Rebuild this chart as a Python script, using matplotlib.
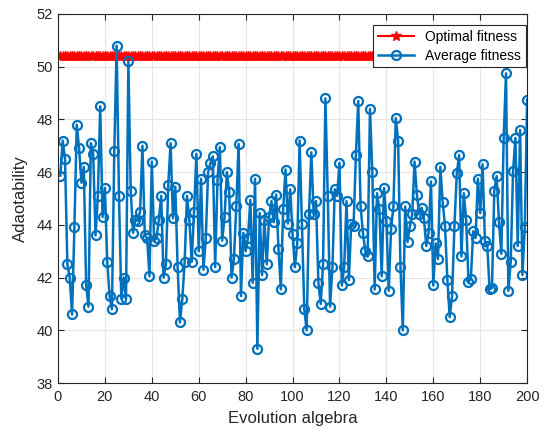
import numpy as np
import matplotlib
matplotlib.use("Agg")
import matplotlib.pyplot as plt

plt.rcParams['font.family'] = ['Liberation Sans', 'DejaVu Sans']

# generation index
gen = np.arange(1, 201)

# average fitness per generation
avg_fitness = [
    45.87, 47.2, 46.5, 42.5, 42.0, 40.6, 43.9, 47.8, 46.9, 45.6,
    46.2, 41.7, 40.9, 47.1, 46.7, 43.6, 45.1, 48.5, 44.3, 45.4,
    42.6, 41.3, 40.8, 46.8, 50.8, 45.1, 41.2, 42.0, 41.2, 50.2,
    45.3, 43.7, 44.2, 44.15, 44.5, 47.0, 43.6, 43.5, 42.05, 46.4,
    43.4, 43.5, 44.2, 45.1, 42.0, 42.5, 45.5, 47.1, 44.25, 45.45,
    42.4, 40.3, 41.2, 42.6, 45.1, 44.2, 42.6, 44.5, 46.7, 43.0,
    45.75, 42.3, 43.5, 46.0, 46.35, 46.6, 42.4, 45.7, 46.95, 43.4,
    44.3, 46.0, 45.25, 42.0, 42.7, 44.7, 47.07, 41.3, 43.7, 43.0,
    43.5, 44.95, 41.8, 45.75, 39.3, 44.45, 42.1, 44.2, 42.5, 44.3,
    44.9, 44.1, 45.15, 43.1, 41.55, 44.6, 46.1, 44.05, 45.35, 43.65,
    42.4, 43.3, 47.2, 44.05, 40.8, 40.0, 44.4, 46.75, 44.4, 44.9,
    41.8, 41.0, 42.5, 48.8, 45.1, 40.9, 42.4, 45.35, 45.1, 46.35,
    41.7, 42.4, 44.9, 41.9, 44.05, 43.95, 46.65, 48.7, 44.7, 43.7,
    43.0, 42.8, 48.4, 46.0, 41.55, 45.2, 44.6, 42.05, 45.4, 44.15,
    41.5, 43.85, 44.7, 48.05, 47.2, 42.4, 40.0, 44.7, 43.35, 43.95,
    44.4, 46.4, 45.15, 44.4, 44.65, 44.25, 43.2, 43.7, 45.65, 41.7,
    43.3, 42.7, 46.2, 44.85, 43.95, 41.9, 40.5, 41.3, 43.95, 45.95,
    46.65, 42.8, 45.2, 44.2, 41.85, 41.95, 43.75, 43.5, 45.75, 44.45,
    46.3, 43.4, 43.2, 41.55, 41.6, 45.3, 45.85, 44.1, 42.9, 47.3,
    49.75, 41.5, 42.6, 46.05, 47.3, 43.2, 47.6, 42.1, 43.9, 48.75,
]

# optimal fitness stays flat
optimal_fitness = [50.4] * 200

fig = plt.figure(figsize=(5.44, 4.32), dpi=100)
ax = fig.add_axes([0.1066, 0.1134, 0.8624, 0.8542])

ax.plot(gen, optimal_fitness, color='#FF0000', linewidth=1.5, marker='*',
        markersize=7, label='Optimal fitness')
ax.plot(gen, avg_fitness, color='#0072BD', linewidth=1.8, marker='o',
        markersize=6.5, markerfacecolor='none', markeredgewidth=1.6,
        label='Average fitness')

ax.set_xlim(0, 200)
ax.set_ylim(38, 52)
ax.set_xticks(np.arange(0, 201, 20))
ax.set_yticks(np.arange(38, 53, 2))
ax.grid(True, color='#E6E6E6', linewidth=0.8)
ax.set_axisbelow(True)
ax.tick_params(direction='in', length=4, colors='#262626', labelsize=10.5,
               top=True, right=True)
ax.tick_params(axis='x', pad=5)
for s in ax.spines.values():
    s.set_color('#262626')
    s.set_linewidth(0.8)

ax.set_xlabel('Evolution algebra', fontsize=12, color='#262626', labelpad=5)
ax.set_ylabel('Adaotability', fontsize=12, color='#262626', labelpad=6)

leg = ax.legend(loc='upper right', fontsize=10, fancybox=False,
                edgecolor='#262626', framealpha=1, borderpad=0.35,
                handlelength=2.6, labelspacing=0.35, borderaxespad=0.25,
                bbox_to_anchor=(1.005, 0.98))
leg.get_frame().set_linewidth(0.8)

fig.savefig('out.png', dpi=100)
